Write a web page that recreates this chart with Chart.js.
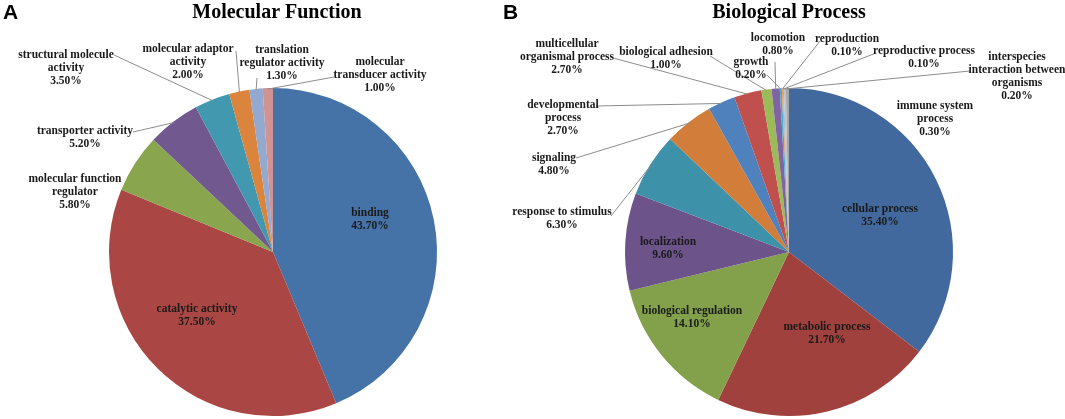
<!DOCTYPE html>
<html>
<head>
<meta charset="utf-8">
<script src="https://cdn.jsdelivr.net/npm/chart.js@4.4.1/dist/chart.umd.min.js"></script>
<style>
  body { margin: 0; background: #fff; }
  #wrap { position: relative; width: 1065px; height: 419px; }
  canvas { position: absolute; left: 0; top: 0; }
</style>
</head>
<body>
<div id="wrap">
  <canvas id="mf" width="1065" height="419"></canvas>
  <canvas id="bp" width="1065" height="419"></canvas>
</div>
<script>
// Molecular Function (panel A)
const mfCategories = [
  ['binding'], ['catalytic activity'], ['molecular function', 'regulator'],
  ['transporter activity'], ['structural molecule', 'activity'],
  ['molecular adaptor', 'activity'], ['translation', 'regulator activity'],
  ['molecular', 'transducer activity']
];
const mfValues = [43.7, 37.5, 5.8, 5.2, 3.5, 2.0, 1.3, 1.0];
const mfColors = ['#4572A7', '#AA4643', '#89A54E', '#71588F', '#4198AF', '#DB843D', '#93A9CF', '#D19392'];

// Biological Process (panel B)
const bpCategories = [
  ['cellular process'], ['metabolic process'], ['biological regulation'], ['localization'],
  ['response to stimulus'], ['signaling'], ['developmental', 'process'],
  ['multicellular', 'organismal process'], ['biological adhesion'], ['locomotion'],
  ['growth'], ['reproduction'], ['reproductive process'],
  ['interspecies', 'interaction between', 'organisms'], ['immune system', 'process']
];
const bpValues = [35.4, 21.7, 14.1, 9.6, 6.3, 4.8, 2.7, 2.7, 1.0, 0.8, 0.2, 0.1, 0.1, 0.2, 0.3];
const bpColors = ['#41699E', '#A0413E', '#83A04B', '#6C548A', '#3D91A8', '#D27E3A', '#4F81BD',
  '#C0504D', '#9BBB59', '#8064A2', '#4BACC6', '#F79646', '#95B3D7', '#B7C5DA', '#A6A6A6'];

// label placement: centre x, first line y, optional leader start
const mfLabelPos = [
  {x: 370, y: 213}, {x: 197, y: 309}, {x: 75, y: 179},
  {x: 85, y: 131, lx: 133, ly: 132}, {x: 66, y: 55, lx: 114, ly: 55},
  {x: 188, y: 49, lx: 236, ly: 51}, {x: 282, y: 50, lx: 257, ly: 78},
  {x: 380, y: 62, lx: 334, ly: 77}
];
const bpLabelPos = [
  {x: 880, y: 209}, {x: 827, y: 327}, {x: 692, y: 311}, {x: 668, y: 242},
  {x: 562, y: 212, lx: 611, ly: 216}, {x: 554, y: 158, lx: 576, ly: 158},
  {x: 563, y: 105, lx: 596, ly: 106}, {x: 567, y: 44, lx: 613, ly: 58},
  {x: 666, y: 52, lx: 710, ly: 56}, {x: 778, y: 38, lx: 775, ly: 62},
  {x: 751, y: 62, lx: 767, ly: 75}, {x: 847, y: 39, lx: 820, ly: 41},
  {x: 924, y: 51, lx: 876, ly: 53}, {x: 1017, y: 57, lx: 970, ly: 71},
  {x: 935, y: 106}
];

const LINE_H = 13;
const TEXT_FONT = 'bold 11.5px "Liberation Serif"';

const pieLabels = {
  id: 'pieLabels',
  afterDraw(chart, args, opts) {
    const ctx = chart.ctx;
    const meta = chart.getDatasetMeta(0);
    const values = chart.data.datasets[0].data;
    ctx.save();
    // leader lines first
    ctx.strokeStyle = '#8c8c8c';
    ctx.lineWidth = 1;
    meta.data.forEach((arc, i) => {
      const p = opts.pos[i];
      if (p.lx === undefined) return;
      const mid = (arc.startAngle + arc.endAngle) / 2;
      const ex = arc.x + Math.cos(mid) * (arc.outerRadius - 1);
      const ey = arc.y + Math.sin(mid) * (arc.outerRadius - 1);
      ctx.beginPath();
      ctx.moveTo(p.lx, p.ly);
      ctx.lineTo(ex, ey);
      ctx.stroke();
    });
    ctx.font = TEXT_FONT;
    ctx.fillStyle = '#1a1a1a';
    ctx.textAlign = 'center';
    ctx.textBaseline = 'middle';
    chart.data.labels.forEach((lab, i) => {
      const p = opts.pos[i];
      const lines = lab.concat([values[i].toFixed(2) + '%']);
      lines.forEach((t, k) => ctx.fillText(t, p.x, p.y + k * LINE_H));
    });
    // title and panel letter
    ctx.font = 'bold 20px "Liberation Serif"';
    ctx.fillStyle = '#000';
    ctx.fillText(opts.title, opts.titleX, 13);
    ctx.font = 'bold 21px "Liberation Sans"';
    ctx.textAlign = 'left';
    ctx.fillText(opts.letter, opts.letterX, 13);
    ctx.restore();
  }
};

function makePie(id, labels, values, colors, pad, labelOpts) {
  return new Chart(document.getElementById(id), {
    type: 'pie',
    data: {
      labels: labels,
      datasets: [{
        data: values,
        backgroundColor: colors,
        borderWidth: 0
      }]
    },
    options: {
      responsive: false,
      animation: false,
      events: [],
      devicePixelRatio: 1,
      layout: { padding: pad },
      plugins: {
        legend: { display: false },
        tooltip: { enabled: false },
        pieLabels: labelOpts
      }
    },
    plugins: [pieLabels]
  });
}

makePie('mf', mfCategories, mfValues, mfColors,
  {left: 109, right: 628, top: 88, bottom: 3},
  {pos: mfLabelPos, title: 'Molecular Function', titleX: 277, letter: 'A', letterX: 3});
makePie('bp', bpCategories, bpValues, bpColors,
  {left: 625, right: 112, top: 88, bottom: 3},
  {pos: bpLabelPos, title: 'Biological Process', titleX: 789, letter: 'B', letterX: 503});
</script>
</body>
</html>
